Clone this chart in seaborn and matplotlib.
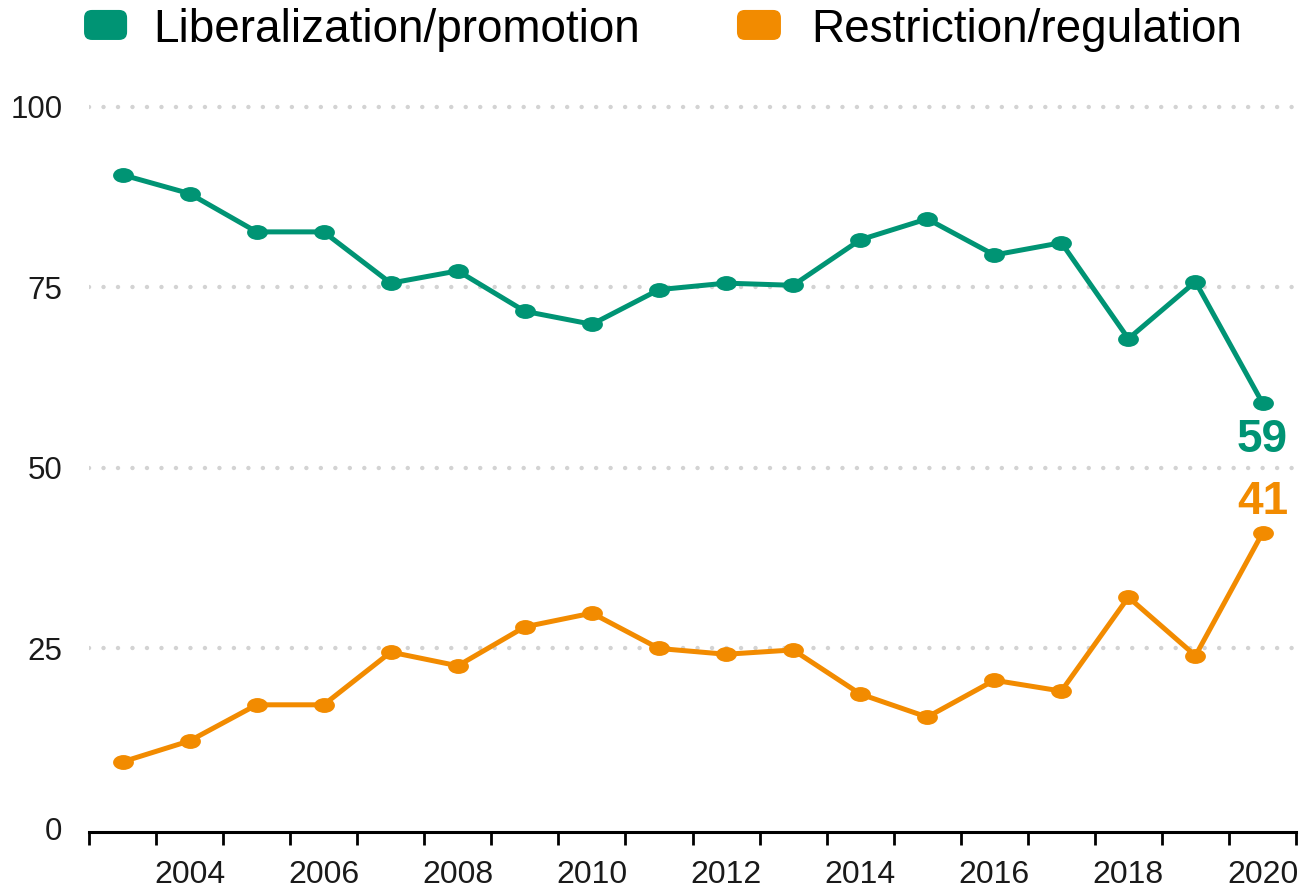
import numpy as np
import pandas as pd
import seaborn as sns
import matplotlib
matplotlib.use("Agg")
import matplotlib.pyplot as plt
from matplotlib.path import Path
from matplotlib.patches import FancyBboxPatch
from matplotlib.ticker import FixedLocator

# data (share of measures, %)
years = list(range(2003, 2021))
liberalization = [90.6, 88.0, 82.7, 82.7, 75.6, 77.3, 71.7, 69.9, 74.7,
                  75.6, 75.3, 81.6, 84.5, 79.5, 81.2, 67.9, 75.8, 59.0]
restriction = [9.3, 12.2, 17.2, 17.2, 24.5, 22.6, 28.0, 29.9, 25.0,
               24.2, 24.8, 18.7, 15.5, 20.6, 19.1, 32.1, 24.0, 41.0]
series_names = ["Liberalization/promotion", "Restriction/regulation"]
series_colors = ["#009474", "#f28b00"]
year_ticks = list(range(2004, 2021, 2))
y_ticks = [0, 25, 50, 75, 100]

df = pd.DataFrame({"year": years, "lib": liberalization, "res": restriction})

sns.set_style("white")
plt.rcParams["font.family"] = ["Liberation Sans", "DejaVu Sans"]

fig = plt.figure(figsize=(13.09, 8.88), dpi=100)
ax = fig.add_axes([0.0680, 0.0632, 0.9221, 0.8326])

# slightly wide ellipse marker like the original
circ = Path.unit_circle()
ellipse = Path(circ.vertices * np.array([1.4, 1.0]), circ.codes)

for col, color in zip(["lib", "res"], series_colors):
    sns.lineplot(data=df, x="year", y=col, ax=ax, color=color, linewidth=3.6,
                 marker=ellipse, markersize=15, markeredgewidth=0,
                 legend=False, zorder=3)

# end labels
ax.annotate(f"{liberalization[-1]:.0f}", (years[-1], liberalization[-1]),
            xytext=(0, -27), textcoords="offset points", ha="center", va="center",
            fontsize=33, fontweight="bold", color=series_colors[0])
ax.annotate(f"{restriction[-1]:.0f}", (years[-1], restriction[-1]),
            xytext=(0, 22), textcoords="offset points", ha="center", va="center",
            fontsize=33, fontweight="bold", color=series_colors[1])

ax.set_xlim(years[0] - 0.5, years[-1] + 0.5)
ax.set_ylim(-0.4, 102)
ax.set_xlabel("")
ax.set_ylabel("")

ax.xaxis.set_major_locator(FixedLocator(year_ticks))
ax.xaxis.set_minor_locator(FixedLocator([y - 0.5 for y in years] + [years[-1] + 0.5]))
ax.set_xticklabels([str(y) for y in year_ticks])
ax.set_yticks(y_ticks)
ax.tick_params(axis="x", which="both", bottom=True)
ax.tick_params(axis="x", which="major", length=0, pad=20, labelsize=23, labelcolor="#1a1a1a")
ax.tick_params(axis="x", which="minor", length=9.4, width=2.0, color="black", direction="out")
ax.tick_params(axis="y", length=0, pad=19, labelsize=22.5, labelcolor="#1a1a1a")

for s in ["top", "right", "left"]:
    ax.spines[s].set_visible(False)
ax.spines["bottom"].set_linewidth(2.2)
ax.spines["bottom"].set_color("black")

ax.grid(axis="y", color="#d3d3d3", linewidth=3.2, linestyle=(0, (0.01, 3.25)),
        dash_capstyle="round")
ax.grid(axis="x", visible=False)
ax.get_ygridlines()[0].set_visible(False)

# legend drawn at top
asp = 1309 / 888
for x0, w, color in [(0.0642, 0.0329, series_colors[0]), (0.5630, 0.0336, series_colors[1])]:
    fig.patches.append(FancyBboxPatch((x0, 0.955), w, 0.0338, transform=fig.transFigure,
                                      boxstyle="round,pad=0,rounding_size=0.006",
                                      mutation_aspect=asp, facecolor=color, edgecolor="none"))
fig.text(0.1170, 0.9530, series_names[0], fontsize=33, color="black", va="baseline")
fig.text(0.6200, 0.9530, series_names[1], fontsize=33, color="black", va="baseline")

fig.savefig("out.png", dpi=100)
